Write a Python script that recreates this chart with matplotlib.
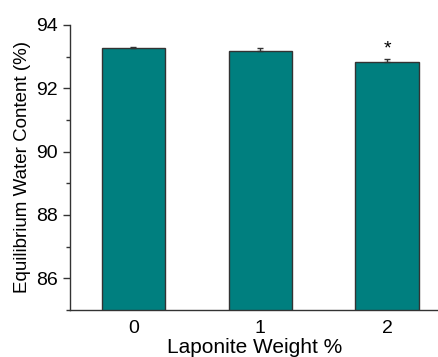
import numpy as np
import matplotlib.pyplot as plt

plt.rcParams['font.family'] = ['Liberation Sans', 'DejaVu Sans']

# Data
categories = ['0', '1', '2']
ewc = [93.28, 93.19, 92.83]
ewc_err = [0.03, 0.07, 0.11]
marks = ['', '', '*']

fig = plt.figure(figsize=(4.39, 3.57), dpi=100)
ax = fig.add_axes([0.1595, 0.132, 0.8405, 0.798])

x = np.arange(len(categories))
ax.bar(x, ewc, width=0.5, color='#007f7f', edgecolor='#333333', linewidth=1.0, zorder=2)
ax.errorbar(x, ewc, yerr=[np.zeros(len(ewc)), ewc_err], fmt='none',
            ecolor='#333333', elinewidth=1.0, capsize=2.5, capthick=1.0, zorder=3)

for xi, v, e, m in zip(x, ewc, ewc_err, marks):
    if m:
        ax.text(xi, v + e + 0.03, m, ha='center', va='bottom', fontsize=14)

ax.set_xlim(-0.5, 2.41)
ax.set_ylim(85, 94)
ax.set_xticks(x)
ax.set_xticklabels(categories)
ax.set_yticks([86, 88, 90, 92, 94])
ax.set_yticks([85, 87, 89, 91, 93], minor=True)
ax.tick_params(axis='both', which='major', labelsize=14, direction='out', length=5, width=1, color='#333333')
ax.tick_params(axis='y', which='minor', direction='out', length=3, width=1, color='#333333')
ax.tick_params(axis='x', which='major', length=0, pad=7)

for s in ['top', 'right']:
    ax.spines[s].set_visible(False)
for s in ['left', 'bottom']:
    ax.spines[s].set_color('#333333')
    ax.spines[s].set_linewidth(1.0)

ax.set_xlabel('Laponite Weight %', fontsize=15, labelpad=1)
ax.set_ylabel('Equilibrium Water Content (%)', fontsize=13.5, labelpad=4)

fig.savefig('out.png', dpi=100)
